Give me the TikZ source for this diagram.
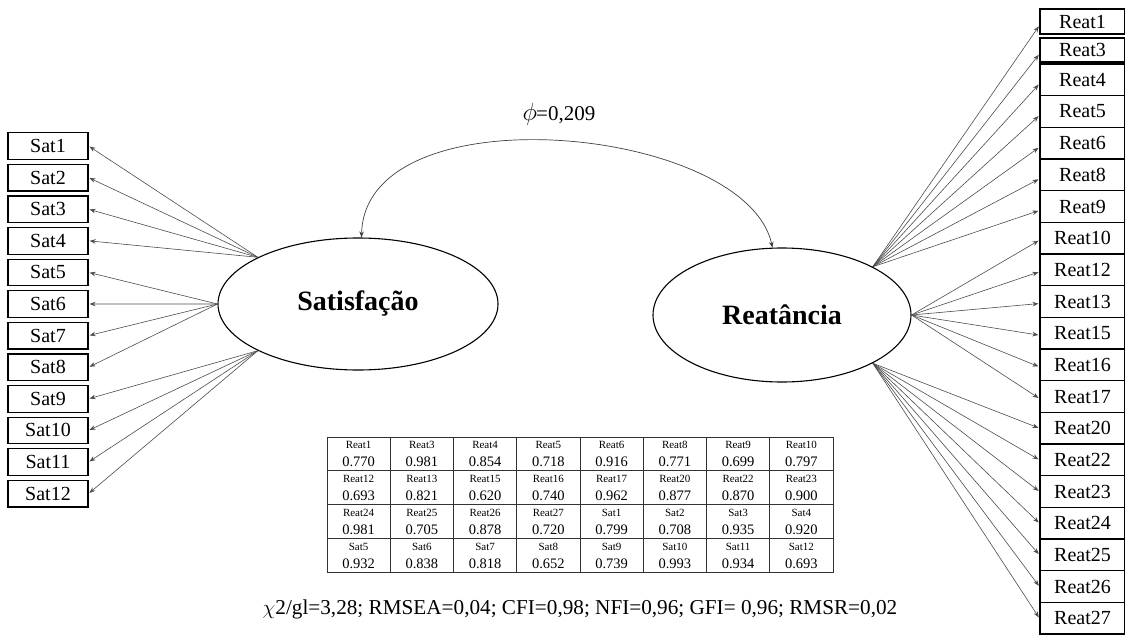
\documentclass[tikz,border=0pt]{standalone}
\usepackage{fontspec}
\setmainfont{Liberation Serif}
\usetikzlibrary{shapes.geometric,arrows.meta}
\tikzset{
  sbox/.style={draw, line width=1.2pt, minimum width=80pt, minimum height=26.6pt, inner sep=0pt, font=\fontsize{20}{24}\selectfont},
  rbox/.style={draw, line width=1.2pt, minimum width=85pt, inner sep=0pt, font=\fontsize{20}{24}\selectfont},
  latent/.style={draw, ellipse, line width=1.1pt, inner sep=0pt, font=\fontsize{28}{32}\selectfont\bfseries},
  load/.style={draw=black!70, line width=0.6pt, shorten >=1pt, -{Stealth[length=6pt,width=4.5pt]}},
  covar/.style={draw=black!75, line width=0.7pt, {Stealth[length=6pt,width=4.5pt]}-{Stealth[length=6pt,width=4.5pt]}},
  tname/.style={inner sep=0pt, font=\fontsize{11}{12}\selectfont},
  tval/.style={inner sep=0pt, font=\fontsize{14.5}{16}\selectfont},
  gridline/.style={draw=black!80, line width=0.8pt},
  bigtext/.style={inner sep=0pt, font=\fontsize{21.2}{25}\selectfont},
}
\begin{document}
\begin{tikzpicture}[x=1pt,y=-1pt]
\useasboundingbox (0,0) rectangle (1125,637);

% latent variables
\node[latent, minimum width=280pt, minimum height=132pt] (sat) at (358,304) {Satisfação};
\node[latent, minimum width=258pt, minimum height=134pt] (rea) at (782,315) {Reatância};

% Sat indicators
\foreach \i in {1,...,12}
  \node[sbox] (s\i) at (48,{146.0+31.6*(\i-1)}) {Sat\i};

\foreach \i in {1,...,4} \draw[load] (sat.155) -- (s\i.east);
\foreach \i in {5,...,8} \draw[load] (sat.west) -- (s\i.east);
\foreach \i in {9,...,12} \draw[load] (sat.205) -- (s\i.east);

% Reat indicators
\node[rbox, minimum height=25pt] (r1) at (1082.5,21.5) {Reat1};
\node[rbox, minimum height=24pt] (r3) at (1082.5,50) {Reat3};
\foreach \n [count=\k from 0] in {4,5,6,8,9,10,12,13,15,16,17,20,22,23,24,25,26,27}
  \node[rbox, minimum height=31.67pt] (r\n) at (1082.5,{79.83+31.67*\k}) {Reat\n};

\foreach \n in {1,3,4,5,6,8,9} \draw[load] (rea.28) -- ([yshift=-4pt]r\n.west);
\foreach \n in {10,12,13,15,16,17} \draw[load] (rea.east) -- ([yshift=-2pt]r\n.west);
\foreach \n in {20,22,23,24,25,26,27} \draw[load] (rea.-28) -- (r\n.west);

% covariance
\draw[covar] (sat.87) .. controls (365,90) and (745,125) .. (rea.98);
\node[inner sep=0pt, font=\fontsize{21}{24}\selectfont] (phi) at (559,114) {{\fontsize{27}{28}\selectfont$\phi$}\kern-1pt=0,209};

% table grid
\draw[gridline] (327,437) rectangle (833,572.5);
\foreach \r in {1,2,3} \draw[gridline] (327,{437+33.875*\r}) -- (833,{437+33.875*\r});
\foreach \c in {1,...,7} \draw[gridline] ({327+63.25*\c},437) -- ({327+63.25*\c},572.5);

% table contents
\foreach \nm/\vl [count=\c from 0] in {Reat1/0.770,Reat3/0.981,Reat4/0.854,Reat5/0.718,Reat6/0.916,Reat8/0.771,Reat9/0.699,Reat10/0.797}{
  \node[tname] (ta\c) at ({358.6+63.25*\c},445) {\nm};
  \node[tval] (va\c) at ({358.6+63.25*\c},462) {\vl};
}
\foreach \nm/\vl [count=\c from 0] in {Reat12/0.693,Reat13/0.821,Reat15/0.620,Reat16/0.740,Reat17/0.962,Reat20/0.877,Reat22/0.870,Reat23/0.900}{
  \node[tname] (tb\c) at ({358.6+63.25*\c},{445+33.875}) {\nm};
  \node[tval] (vb\c) at ({358.6+63.25*\c},{462+33.875}) {\vl};
}
\foreach \nm/\vl [count=\c from 0] in {Reat24/0.981,Reat25/0.705,Reat26/0.878,Reat27/0.720,Sat1/0.799,Sat2/0.708,Sat3/0.935,Sat4/0.920}{
  \node[tname] (tc\c) at ({358.6+63.25*\c},{445+2*33.875}) {\nm};
  \node[tval] (vc\c) at ({358.6+63.25*\c},{462+2*33.875}) {\vl};
}
\foreach \nm/\vl [count=\c from 0] in {Sat5/0.932,Sat6/0.838,Sat7/0.818,Sat8/0.652,Sat9/0.739,Sat10/0.993,Sat11/0.934,Sat12/0.693}{
  \node[tname] (td\c) at ({358.6+63.25*\c},{445+3*33.875}) {\nm};
  \node[tval] (vd\c) at ({358.6+63.25*\c},{462+3*33.875}) {\vl};
}

% fit statistics
\node[bigtext] (stats) at (580,609) {$\chi$2/gl=3,28; RMSEA=0,04; CFI=0,98; NFI=0,96; GFI= 0,96; RMSR=0,02};
\end{tikzpicture}
\end{document}
